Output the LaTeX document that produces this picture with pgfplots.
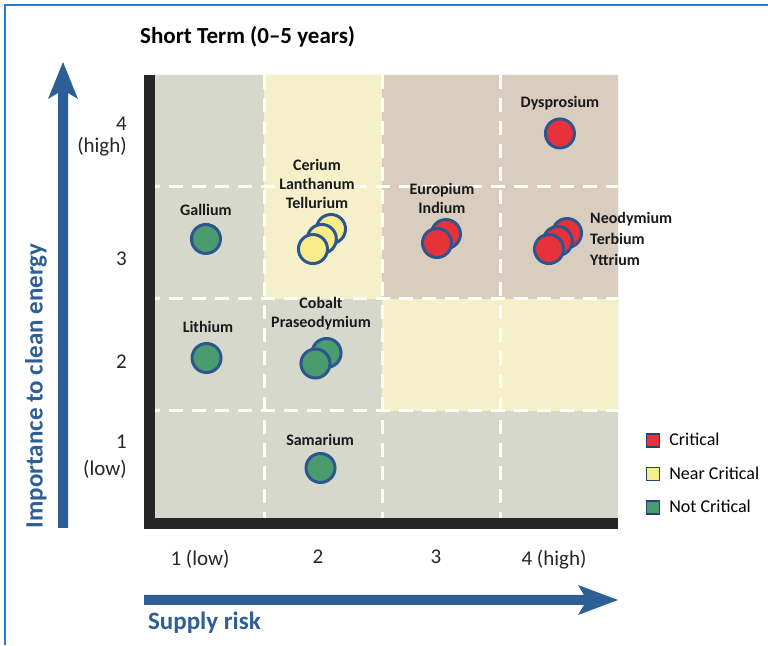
\documentclass[border=0pt]{standalone}
\usepackage{fontspec}
\setmainfont{Carlito}
\usepackage{pgfplots}
\pgfplotsset{compat=1.18}
\definecolor{cellgray}{RGB}{214,216,203}
\definecolor{cellyellow}{RGB}{245,240,202}
\definecolor{cellbrown}{RGB}{216,205,190}
\definecolor{crit}{RGB}{232,50,58}
\definecolor{near}{RGB}{247,236,135}
\definecolor{notc}{RGB}{74,155,110}
\definecolor{edge}{RGB}{45,86,145}
\definecolor{arrowblue}{RGB}{46,94,150}
\definecolor{framecol}{RGB}{40,125,210}
\definecolor{axblack}{RGB}{38,38,38}
\begin{document}
\begin{tikzpicture}[x=1pt,y=1pt]
\fill[white] (0,0) rectangle (768,645);
\draw[framecol, line width=2pt] (5,0) -- (5,640) -- (768,640);
\begin{axis}[
  at={(146pt,122pt)}, anchor=south west,
  scale only axis, width=472pt, height=448pt,
  xmin=0.5, xmax=4.5, ymin=0.5, ymax=4.5,
  clip=false,
  axis line style={draw=none},
  tick style={draw=none},
  xtick={1,2,3,4}, xticklabels={1 (low),2,3,4 (high)},
  ytick={1,2,3,4},
  yticklabels={
    {\raisebox{9pt}[\height][\depth]{\begin{tabular}{@{}r@{}}1\\[5pt](low)\end{tabular}}},
    {\raisebox{-7pt}[\height][\depth]{2}},
    {\raisebox{-16pt}[\height][\depth]{3}},
    {\raisebox{-6pt}[\height][\depth]{\begin{tabular}{@{}r@{}}4\\(high)\end{tabular}}}},
  xticklabel style={font=\fontsize{21}{23}\selectfont, inner sep=0pt, anchor=north, yshift=-27pt, xshift=-5pt, text=black!85},
  yticklabel style={font=\fontsize{21}{22}\selectfont, inner sep=0pt, anchor=east, xshift=-19pt, align=right, text=black!85},
  title={Short Term (0--5 years)},
  title style={at={(axis description cs:-0.0127,1.0714)}, anchor=west, font=\fontsize{23}{28}\selectfont\bfseries, inner sep=0pt},
  xlabel={Supply risk},
  xlabel style={at={(axis description cs:0.004,-0.2232)}, anchor=west, font=\fontsize{25}{30}\selectfont\bfseries, text=arrowblue, inner sep=0pt},
  ylabel={Importance to clean energy},
  ylabel style={at={(axis description cs:-0.233,0.306)}, anchor=center, font=\fontsize{25}{30}\selectfont\bfseries, text=arrowblue, inner sep=0pt},
  legend style={at={(axis description cs:1.059,0.205)}, anchor=north west, draw=none, fill=none, inner sep=0pt, font=\fontsize{18}{21}\selectfont, row sep=15.5pt,
    /tikz/every odd column/.append style={column sep=7pt}},
  legend cell align=left,
]
% cells
\addplot[fill=cellgray, draw=none, forget plot] coordinates {(0.5,0.5) (4.5,0.5) (4.5,4.5) (0.5,4.5) (0.5,0.5)};
\addplot[fill=cellyellow, draw=none, forget plot] coordinates {(1.5,2.5) (2.5,2.5) (2.5,4.5) (1.5,4.5) (1.5,2.5)};
\addplot[fill=cellyellow, draw=none, forget plot] coordinates {(2.5,1.5) (4.5,1.5) (4.5,2.5) (2.5,2.5) (2.5,1.5)};
\addplot[fill=cellbrown, draw=none, forget plot] coordinates {(2.5,2.5) (4.5,2.5) (4.5,4.5) (2.5,4.5) (2.5,2.5)};
% dashed grid
\addplot[white!97!yellow, line width=3pt, dash pattern=on 14pt off 9pt, forget plot] coordinates {(1.5,4.5) (1.5,0.5)};
\addplot[white!97!yellow, line width=3pt, dash pattern=on 14pt off 9pt, forget plot] coordinates {(2.5,4.5) (2.5,0.5)};
\addplot[white!97!yellow, line width=3pt, dash pattern=on 14pt off 9pt, forget plot] coordinates {(3.5,4.5) (3.5,0.5)};
\addplot[white!97!yellow, line width=3pt, dash pattern=on 14pt off 9pt, forget plot] coordinates {(0.5,1.5) (4.5,1.5)};
\addplot[white!97!yellow, line width=3pt, dash pattern=on 14pt off 9pt, forget plot] coordinates {(0.5,2.5) (4.5,2.5)};
\addplot[white!97!yellow, line width=3pt, dash pattern=on 14pt off 9pt, forget plot] coordinates {(0.5,3.5) (4.5,3.5)};
% axis L
\addplot[axblack, line width=11pt, line join=miter, forget plot] coordinates {(0.528,4.5) (0.528,0.5) (4.5,0.5)};
% not critical
\addplot[only marks, mark=*, mark size=14.5pt, line width=3pt, mark options={fill=notc, draw=edge, line width=3pt}, forget plot] coordinates {
 (1.008,3.036) (1.013,1.973) (2.03,2.018) (1.936,1.924) (1.979,0.991)};
% near critical
\addplot[only marks, mark=*, mark size=14.5pt, line width=3pt, mark options={fill=near, draw=edge, line width=3pt}, forget plot] coordinates {
 (2.068,3.125) (1.99,3.036) (1.915,2.946)};
% critical
\addplot[only marks, mark=*, mark size=14.5pt, line width=3pt, mark options={fill=crit, draw=edge, line width=3pt}, forget plot] coordinates {
 (3.042,3.08) (2.966,3.0) (4.008,3.978) (4.068,3.089) (3.99,3.018) (3.915,2.946)};
% labels
\begin{scope}[every node/.style={font=\fontsize{16}{19}\selectfont\bfseries, align=center, text=black!90}]
\node at (axis cs:1.008,3.295) {Gallium};
\node at (axis cs:1.949,3.527) {Cerium\\Lanthanum\\Tellurium};
\node at (axis cs:3.008,3.402) {Europium\\Indium};
\node at (axis cs:4.008,4.25) {Dysprosium};
\node[anchor=west, align=left, font=\fontsize{16}{21}\selectfont\bfseries, inner sep=0pt] at (axis cs:4.263,3.036) {Neodymium\\Terbium\\Yttrium};
\node at (axis cs:1.025,2.25) {Lithium};
\node at (axis cs:1.983,2.366) {Cobalt\\Praseodymium};
\node at (axis cs:1.975,1.241) {Samarium};
\end{scope}
% legend
\addlegendimage{legend image code/.code={\draw[fill=crit, draw=edge!80!black, line width=1.3pt] (0pt,-6.5pt) rectangle (13pt,6.5pt);}}
\addlegendentry{Critical}
\addlegendimage{legend image code/.code={\draw[fill=near, draw=edge!80!black, line width=1.3pt] (0pt,-6.5pt) rectangle (13pt,6.5pt);}}
\addlegendentry{Near Critical}
\addlegendimage{legend image code/.code={\draw[fill=notc, draw=edge!80!black, line width=1.3pt] (0pt,-6.5pt) rectangle (13pt,6.5pt);}}
\addlegendentry{Not Critical}
\end{axis}
% axis arrows
\fill[arrowblue] (58,117) -- (58,552) -- (48,546) -- (63,583) -- (78,546) -- (68,552) -- (68,117) -- cycle;
\fill[arrowblue] (144,50) -- (584,50) -- (578,60) -- (618,45) -- (578,30) -- (584,40) -- (144,40) -- cycle;
\pgfresetboundingbox
\useasboundingbox (0,0) rectangle (768,645);
\end{tikzpicture}
\end{document}
